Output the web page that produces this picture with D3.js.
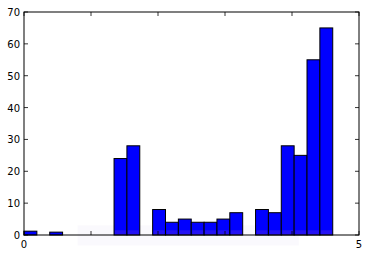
<!DOCTYPE html>
<html>
<head>
<meta charset="utf-8">
<script src="https://cdn.jsdelivr.net/npm/d3@7"></script>
<style>
  body { margin: 0; background: #fff; }
  svg { display: block; }
  text { font-family: "DejaVu Sans", sans-serif; font-size: 10px; fill: #000; }
</style>
</head>
<body>
<svg width="372" height="256"></svg>
<script>
"use strict"
// histogram counts, bins of equal width starting at 0
const binWidth = 0.192
const counts = [1.2, 0, 0.9, 0, 0, 0, 0, 24, 28, 0, 8, 4, 5, 4, 4, 5, 7, 0, 8, 7, 28, 25, 55, 65]
const yTicks = [0, 10, 20, 30, 40, 50, 60, 70]
const xTicks = [0, 1, 2, 3, 4, 5]
const xLabels = ["0", "", "", "", "", "5"]

let svg = d3.select("svg")
let margin = {left: 24, right: 13, top: 12, bottom: 21}
let width = +svg.attr("width"), height = +svg.attr("height")

let x = d3.scaleLinear().domain([0, 5]).range([margin.left, width - margin.right])
let y = d3.scaleLinear().domain([0, 70]).range([height - margin.bottom, margin.top])

let bins = counts.map((c, i) => ({x0: i * binWidth, x1: (i + 1) * binWidth, n: c}))

// faint overlay near the baseline
svg.append("rect")
  .attr("x", x(0.8)).attr("y", y(3))
  .attr("width", x(4.1) - x(0.8)).attr("height", 20)
  .attr("fill", "#ece6f6").attr("opacity", 0.25)

svg.append("g").selectAll("rect")
  .data(bins)
  .enter().append("rect")
    .attr("x", d => x(d.x0))
    .attr("y", d => y(d.n))
    .attr("width", d => x(d.x1) - x(d.x0))
    .attr("height", d => y(0) - y(d.n))
    .attr("fill", "#0000ff")
    .attr("stroke", "#000")
    .attr("stroke-width", 1)

// purple-ish smudge at bar bottoms
svg.append("g").selectAll("rect")
  .data(bins.filter(d => d.n > 3))
  .enter().append("rect")
    .attr("x", d => x(d.x0) + 1)
    .attr("y", y(1.5))
    .attr("width", d => x(d.x1) - x(d.x0) - 2)
    .attr("height", y(0) - y(1.5))
    .attr("fill", "#7a3cd8").attr("opacity", 0.3)

// frame
svg.append("rect")
  .attr("x", x(0)).attr("y", y(70))
  .attr("width", x(5) - x(0)).attr("height", y(0) - y(70))
  .attr("fill", "none").attr("stroke", "#000").attr("stroke-width", 1)

// inward ticks
let tk = svg.append("g").attr("stroke", "#000").attr("stroke-width", 0.8)
yTicks.forEach(t => {
  tk.append("line").attr("x1", x(0)).attr("x2", x(0) + 4).attr("y1", y(t)).attr("y2", y(t))
  tk.append("line").attr("x1", x(5)).attr("x2", x(5) - 4).attr("y1", y(t)).attr("y2", y(t))
})
xTicks.forEach(t => {
  tk.append("line").attr("x1", x(t)).attr("x2", x(t)).attr("y1", y(70)).attr("y2", y(70) + 4)
  tk.append("line").attr("x1", x(t)).attr("x2", x(t)).attr("y1", y(0)).attr("y2", y(0) - 4)
})

svg.append("g").selectAll("text")
  .data(yTicks)
  .enter().append("text")
    .attr("x", x(0) - 4)
    .attr("y", d => y(d) + 4)
    .attr("text-anchor", "end")
    .text(d => d)

svg.append("g").selectAll("text")
  .data(xTicks)
  .enter().append("text")
    .attr("x", d => x(d))
    .attr("y", y(0) + 13)
    .attr("text-anchor", "middle")
    .text((d, i) => xLabels[i])
</script>
</body>
</html>
